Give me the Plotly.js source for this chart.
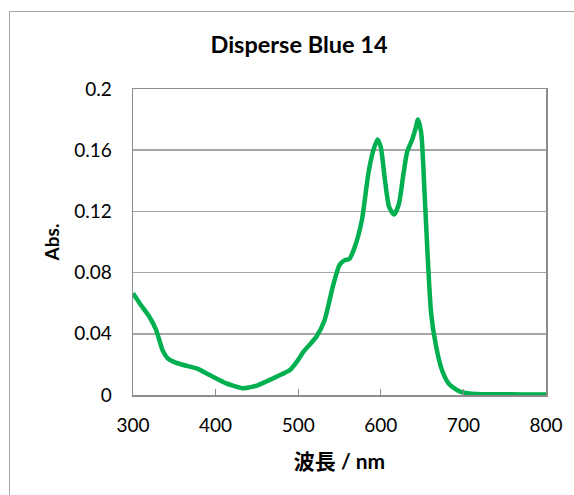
<!DOCTYPE html>
<html>
<head>
<meta charset="utf-8">
<script src="https://cdn.plot.ly/plotly-3.0.1.min.js"></script>
<style>
  html, body { margin: 0; padding: 0; background: #fff; }
  #wrap { position: relative; width: 574px; height: 495px; overflow: hidden; }
  #frame { position: absolute; left: 9px; top: 11px; width: 600px; height: 520px;
           border-left: 1.5px solid #a6a6a6; border-top: 1.5px solid #a6a6a6; pointer-events: none; }
  #chart { position: absolute; left: 0; top: 0; width: 574px; height: 495px; }
</style>
</head>
<body>
<div id="wrap">
  <div id="chart"></div>
  <div id="frame"></div>
</div>
<script>
// Absorption spectrum of Disperse Blue 14
const wavelength = [300, 308, 320, 328, 336, 342, 350, 361, 377, 393, 413, 425, 433, 441, 449, 460,
  470, 480, 490, 500, 506, 514, 522, 532, 538, 542, 550, 556, 562, 568, 577, 585, 591, 596,
  600, 605, 610, 616, 622, 627, 632, 638, 642, 645, 649, 653, 657, 661, 667, 674, 682, 690,
  696, 705, 716, 740, 770, 800];
const absorbance = [0.0665, 0.060, 0.051, 0.0425, 0.029, 0.024, 0.0215, 0.0196, 0.0174, 0.013, 0.0076,
  0.0055, 0.0044, 0.0050, 0.0059, 0.0085, 0.011, 0.0135, 0.0163, 0.023, 0.028, 0.033, 0.038, 0.049,
  0.062, 0.071, 0.085, 0.088, 0.089, 0.096, 0.114, 0.145, 0.160, 0.167, 0.162, 0.1405, 0.123,
  0.118, 0.125, 0.143, 0.159, 0.167, 0.174, 0.180, 0.171, 0.132, 0.088, 0.053, 0.0316, 0.0163,
  0.0076, 0.004, 0.0022, 0.0012, 0.0007, 0.0005, 0.0004, 0.0003];

const titleText = 'Disperse Blue 14';
const xTitle = '波長 / nm';
const yTitle = 'Abs.';

const font = 'Lato, "Noto Sans", "Noto Sans CJK JP", sans-serif';

Plotly.newPlot('chart', [{
  x: wavelength,
  y: absorbance,
  type: 'scatter',
  mode: 'lines',
  line: { color: '#00b050', width: 4.5, shape: 'spline', smoothing: 0.6 },
  hoverinfo: 'skip'
}], {
  width: 574,
  height: 495,
  margin: { l: 133, r: 28, t: 89, b: 100 },
  paper_bgcolor: '#ffffff',
  plot_bgcolor: '#ffffff',
  showlegend: false,
  title: {
    text: '<b>' + titleText + '</b>',
    font: { family: font, size: 23.5, color: '#000' },
    x: 299 / 574, xanchor: 'center', xref: 'container',
    y: 1 - 45 / 495, yanchor: 'middle'
  },
  xaxis: {
    range: [300, 800],
    dtick: 100,
    tick0: 300,
    showgrid: false,
    zeroline: false,
    showline: true,
    linecolor: '#8c8c8c',
    linewidth: 1.5,
    mirror: true,
    ticks: 'inside',
    ticklen: 6,
    tickcolor: '#8c8c8c',
    tickfont: { family: font, size: 19, color: '#000' },
    ticklabelstandoff: 13,
    title: { text: '<b>' + xTitle + '</b>', font: { family: font, size: 21, color: '#000' }, standoff: 19 }
  },
  yaxis: {
    range: [0, 0.2],
    dtick: 0.04,
    tick0: 0,
    showgrid: true,
    gridcolor: '#a6a6a6',
    gridwidth: 1.5,
    zeroline: false,
    showline: true,
    linecolor: '#8c8c8c',
    linewidth: 1.5,
    mirror: true,
    ticks: '',
    tickfont: { family: font, size: 19, color: '#000' },
    ticklabelstandoff: 16,
    title: { text: '<b>' + yTitle + '</b>', font: { family: font, size: 19, color: '#000' }, standoff: 9 }
  }
}, { staticPlot: true, displayModeBar: false });
</script>
</body>
</html>
